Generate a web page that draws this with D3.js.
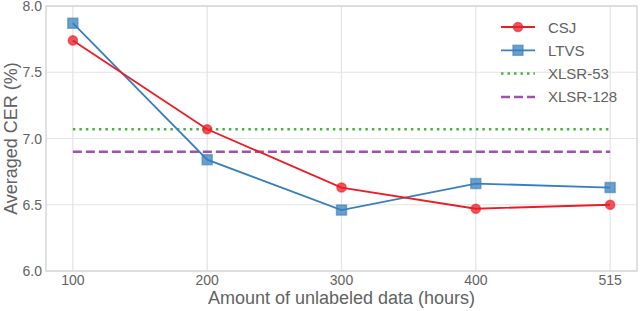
<!DOCTYPE html>
<html>
<head>
<meta charset="utf-8">
<script src="https://cdn.jsdelivr.net/npm/d3@7"></script>
<style>
  body { margin: 0; background: #fff; }
  text { font-family: "Liberation Sans", Arial, sans-serif; }
</style>
</head>
<body>
<div id="chart"></div>
<script>
// data
var hours = ["100", "200", "300", "400", "515"];
var csj = [7.74, 7.07, 6.63, 6.47, 6.50];
var ltvs = [7.87, 6.84, 6.46, 6.66, 6.63];
var xlsr53 = 7.07;
var xlsr128 = 6.90;
var yTicks = [6.0, 6.5, 7.0, 7.5, 8.0];

var W = 640, H = 311;
var margin = { top: 6, right: 3, bottom: 40, left: 46 };
var width = W - margin.left - margin.right;
var height = H - margin.top - margin.bottom;

var svg = d3.select('#chart').append('svg')
    .attr('width', W)
    .attr('height', H);

var g = svg.append('g')
    .attr('transform', `translate(${margin.left},${margin.top})`);

var x = d3.scalePoint()
    .domain(hours)
    .range([0, width])
    .padding(0.2);

var y = d3.scaleLinear()
    .domain([6, 8])
    .range([height, 0]);

// grid
g.append('g').selectAll('line.vg')
    .data(hours)
    .join('line')
    .attr('x1', d => x(d)).attr('x2', d => x(d))
    .attr('y1', 0).attr('y2', height)
    .attr('stroke', '#e3e3e3').attr('stroke-width', 1.2);
g.append('g').selectAll('line.hg')
    .data(yTicks)
    .join('line')
    .attr('x1', 0).attr('x2', width)
    .attr('y1', d => y(d)).attr('y2', d => y(d))
    .attr('stroke', '#e3e3e3').attr('stroke-width', 1.2);

// frame
g.append('rect')
    .attr('width', width).attr('height', height)
    .attr('fill', 'none').attr('stroke', '#d6d6d6').attr('stroke-width', 1.5);

// tick labels
g.selectAll('text.xt')
    .data(hours)
    .join('text')
    .attr('class', 'xt')
    .attr('x', d => x(d))
    .attr('y', height + 14)
    .attr('text-anchor', 'middle')
    .attr('fill', '#626262')
    .attr('font-size', '14px')
    .text(d => d);
g.selectAll('text.yt')
    .data(yTicks)
    .join('text')
    .attr('class', 'yt')
    .attr('x', -4)
    .attr('y', d => y(d) + 5)
    .attr('text-anchor', 'end')
    .attr('fill', '#626262')
    .attr('font-size', '14px')
    .text(d => d.toFixed(1));

// axis titles
svg.append('text')
    .attr('x', margin.left + width / 2)
    .attr('y', H - 7)
    .attr('text-anchor', 'middle')
    .attr('fill', '#626262')
    .attr('font-size', '18px')
    .text('Amount of unlabeled data (hours)');
svg.append('text')
    .attr('transform', `translate(17,${margin.top + height / 2}) rotate(-90)`)
    .attr('text-anchor', 'middle')
    .attr('fill', '#626262')
    .attr('font-size', '18px')
    .text('Averaged CER (%)');

var red = '#ec1c24', blue = '#3a7fbd', green = '#4daf4a', purple = '#a050b0';

// baselines
g.append('line')
    .attr('x1', x(hours[0])).attr('x2', x(hours[hours.length - 1]))
    .attr('y1', y(xlsr53)).attr('y2', y(xlsr53))
    .attr('stroke', green).attr('stroke-width', 2.5)
    .attr('stroke-dasharray', '2.5,4');
g.append('line')
    .attr('x1', x(hours[0])).attr('x2', x(hours[hours.length - 1]))
    .attr('y1', y(xlsr128)).attr('y2', y(xlsr128))
    .attr('stroke', purple).attr('stroke-width', 2.5)
    .attr('stroke-dasharray', '9,4');

var line = d3.line()
    .x((d, i) => x(hours[i]))
    .y(d => y(d));

// LTVS
g.append('path')
    .datum(ltvs)
    .attr('d', line)
    .attr('fill', 'none').attr('stroke', blue).attr('stroke-width', 1.8);
g.selectAll('rect.lt')
    .data(ltvs)
    .join('rect')
    .attr('class', 'lt')
    .attr('x', (d, i) => x(hours[i]) - 5)
    .attr('y', d => y(d) - 5)
    .attr('width', 10).attr('height', 10)
    .attr('fill', blue).attr('fill-opacity', 0.75)
    .attr('stroke', blue).attr('stroke-opacity', 0.6).attr('stroke-width', 1.5);

// CSJ
g.append('path')
    .datum(csj)
    .attr('d', line)
    .attr('fill', 'none').attr('stroke', red).attr('stroke-width', 1.8);
g.selectAll('circle.cs')
    .data(csj)
    .join('circle')
    .attr('class', 'cs')
    .attr('cx', (d, i) => x(hours[i]))
    .attr('cy', d => y(d))
    .attr('r', 4.6)
    .attr('fill', red).attr('fill-opacity', 0.75)
    .attr('stroke', red).attr('stroke-opacity', 0.6).attr('stroke-width', 1.5);

// legend
var legendData = [
    { name: 'CSJ', color: red, dash: null, marker: 'circle' },
    { name: 'LTVS', color: blue, dash: null, marker: 'square' },
    { name: 'XLSR-53', color: green, dash: '2.5,4', marker: null },
    { name: 'XLSR-128', color: purple, dash: '9,4', marker: null }
];
var legend = svg.append('g').attr('transform', 'translate(501,27)');
var rows = legend.selectAll('g')
    .data(legendData)
    .join('g')
    .attr('transform', (d, i) => `translate(0,${i * 23.3})`);
rows.append('line')
    .attr('x1', 0).attr('x2', 34)
    .attr('stroke', d => d.color)
    .attr('stroke-width', d => d.dash ? 2.5 : 1.8)
    .attr('stroke-dasharray', d => d.dash);
rows.filter(d => d.marker === 'circle').append('circle')
    .attr('cx', 17).attr('r', 4.6)
    .attr('fill', d => d.color).attr('fill-opacity', 0.75)
    .attr('stroke', d => d.color).attr('stroke-opacity', 0.6).attr('stroke-width', 1.5);
rows.filter(d => d.marker === 'square').append('rect')
    .attr('x', 12).attr('y', -5).attr('width', 10).attr('height', 10)
    .attr('fill', d => d.color).attr('fill-opacity', 0.75)
    .attr('stroke', d => d.color).attr('stroke-opacity', 0.6).attr('stroke-width', 1.5);
rows.append('text')
    .attr('x', 47).attr('y', 5.5)
    .attr('fill', '#626262')
    .attr('font-size', '15px')
    .text(d => d.name);
</script>
</body>
</html>
